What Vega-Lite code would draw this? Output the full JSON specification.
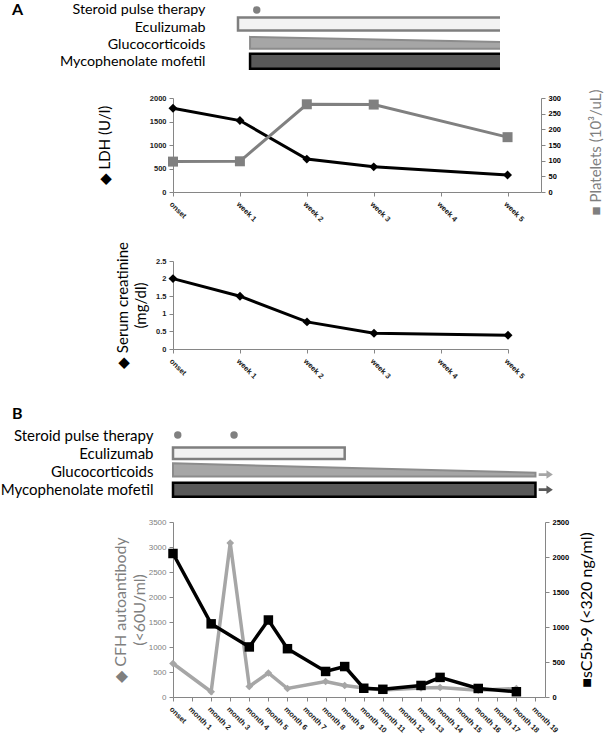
{
  "$schema": "https://vega.github.io/schema/vega-lite/v6.json",
  "padding": 0,
  "background": "white",
  "bounds": "flush",
  "spacing": 0,
  "config": {
    "view": {"stroke": null},
    "font": "Lato",
    "axis": {
      "domainColor": "#868686", "tickColor": "#868686", "tickSize": 4,
      "labelFont": "Liberation Sans", "labelFontSize": 7.5, "labelFontWeight": "bold",
      "labelColor": "#1a1a1a", "labelPadding": 3, "grid": false, "labelFlush": false,
      "labelOverlap": false, "titleFont": "Lato", "titleFontSize": 15,
      "titleFontWeight": "normal", "titleColor": "#000000", "format": "~r"
    }
  },
  "datasets": {
    "treatA": [
      {"row": 1, "name": "Steroid pulse therapy", "start": 1.25},
      {"row": 2, "name": "Eculizumab", "start": 0.97, "end": 5.5},
      {"row": 4, "name": "Mycophenolate mofetil", "start": 1.15, "end": 5.5}
    ],
    "taperA": [
      {"t": 1.15, "top": 2.579, "bottom": 3.279},
      {"t": 5.5, "top": 2.929, "bottom": 3.279}
    ],
    "treatB": [
      {"row": 1, "name": "Steroid pulse therapy", "start": 0.25},
      {"row": 1, "name": "Steroid pulse therapy", "start": 3.2},
      {"row": 2, "name": "Eculizumab", "start": 0, "end": 9},
      {"row": 4, "name": "Mycophenolate mofetil", "start": 0, "end": 19}
    ],
    "taperB": [
      {"t": 0, "top": 2.552, "bottom": 3.276},
      {"t": 19, "top": 3.069, "bottom": 3.276}
    ],
    "arrowsB": [
      {"name": "Glucocorticoids", "row": 3.17, "t": 19.54},
      {"name": "Mycophenolate mofetil", "row": 4, "t": 19.54}
    ],
    "weekly": [
      {"t": 0, "label": "onset", "ldh": 1780, "plt": 97, "cr": 2.0},
      {"t": 1, "label": "week 1", "ldh": 1520, "plt": 98, "cr": 1.5},
      {"t": 2, "label": "week 2", "ldh": 700, "plt": 280, "cr": 0.77},
      {"t": 3, "label": "week 3", "ldh": 535, "plt": 279, "cr": 0.45},
      {"t": 5, "label": "week 5", "ldh": 360, "plt": 175, "cr": 0.39}
    ],
    "cfh": [
      {"t": 0, "label": "onset", "v": 670},
      {"t": 2, "label": "month 2", "v": 105},
      {"t": 3, "label": "month 3", "v": 3080},
      {"t": 4, "label": "month 4", "v": 210},
      {"t": 5, "label": "month 5", "v": 480},
      {"t": 6, "label": "month 6", "v": 170},
      {"t": 8, "label": "month 8", "v": 310},
      {"t": 9, "label": "month 9", "v": 230},
      {"t": 10, "label": "month 10", "v": 180},
      {"t": 11, "label": "month 11", "v": 140},
      {"t": 13, "label": "month 13", "v": 180},
      {"t": 14, "label": "month 14", "v": 190},
      {"t": 16, "label": "month 16", "v": 135},
      {"t": 18, "label": "month 18", "v": 170}
    ],
    "c5b9": [
      {"t": 0, "label": "onset", "v": 2050},
      {"t": 2, "label": "month 2", "v": 1045},
      {"t": 4, "label": "month 4", "v": 715},
      {"t": 5, "label": "month 5", "v": 1100},
      {"t": 6, "label": "month 6", "v": 690},
      {"t": 8, "label": "month 8", "v": 365},
      {"t": 9, "label": "month 9", "v": 435},
      {"t": 10, "label": "month 10", "v": 125},
      {"t": 11, "label": "month 11", "v": 110},
      {"t": 13, "label": "month 13", "v": 165},
      {"t": 14, "label": "month 14", "v": 280},
      {"t": 16, "label": "month 16", "v": 122},
      {"t": 18, "label": "month 18", "v": 75}
    ]
  },
  "vconcat": [
    {
      "width": 327,
      "height": 98,
      "title": {"text": "A", "anchor": "start", "frame": "group", "orient": "top", "fontSize": 16, "fontWeight": "bold", "font": "Lato", "color": "#000000", "baseline": "top", "offset": 0, "dx": -161, "dy": 17.5},
      "layer": [
        {
          "data": {"name": "treatA"},
          "transform": [{"filter": "datum.row == 2"}],
          "mark": {"type": "bar", "orient": "horizontal", "height": 13, "yOffset": -3, "fill": "#f2f2f2", "stroke": "#7f7f7f", "strokeWidth": 2.5, "clip": true},
          "encoding": {
            "x": {"field": "start", "type": "quantitative", "scale": {"domain": [0, 4.88], "nice": false, "zero": false}, "axis": null},
            "x2": {"field": "end"},
            "y": {"field": "row", "type": "quantitative", "scale": {"domain": [0.71, 5.868], "reverse": true, "nice": false, "zero": false}, "axis": {"values": [1, 2, 3, 4], "labelExpr": "['','Steroid pulse therapy','Eculizumab','Glucocorticoids','Mycophenolate mofetil'][datum.value]", "ticks": false, "tickSize": 0, "domain": false, "labelPadding": -32, "labelFont": "Lato", "labelFontSize": 14.3, "labelFontWeight": "normal", "labelColor": "#000000", "title": null}}
          }
        },
        {
          "data": {"name": "taperA"},
          "mark": {"type": "area", "fill": "#a6a6a6", "stroke": "#8c8c8c", "strokeWidth": 2, "clip": true},
          "encoding": {
            "x": {"field": "t", "type": "quantitative", "axis": null},
            "y": {"field": "top", "type": "quantitative", "axis": {"values": [1, 2, 3, 4], "labelExpr": "['','Steroid pulse therapy','Eculizumab','Glucocorticoids','Mycophenolate mofetil'][datum.value]", "ticks": false, "tickSize": 0, "domain": false, "labelPadding": -32, "labelFont": "Lato", "labelFontSize": 14.3, "labelFontWeight": "normal", "labelColor": "#000000", "title": null}},
            "y2": {"field": "bottom"}
          }
        },
        {
          "data": {"name": "treatA"},
          "transform": [{"filter": "datum.row == 4"}],
          "mark": {"type": "bar", "orient": "horizontal", "height": 15, "fill": "#595959", "stroke": "#000000", "strokeWidth": 2.5, "clip": true},
          "encoding": {
            "x": {"field": "start", "type": "quantitative", "axis": null},
            "x2": {"field": "end"},
            "y": {"field": "row", "type": "quantitative", "axis": {"values": [1, 2, 3, 4], "labelExpr": "['','Steroid pulse therapy','Eculizumab','Glucocorticoids','Mycophenolate mofetil'][datum.value]", "ticks": false, "tickSize": 0, "domain": false, "labelPadding": -32, "labelFont": "Lato", "labelFontSize": 14.3, "labelFontWeight": "normal", "labelColor": "#000000", "title": null}}
          }
        },
        {
          "data": {"name": "treatA"},
          "transform": [{"filter": "datum.row == 1"}],
          "mark": {"type": "point", "shape": "circle", "filled": true, "size": 55, "color": "#808080", "opacity": 1},
          "encoding": {
            "x": {"field": "start", "type": "quantitative", "axis": null},
            "y": {"field": "row", "type": "quantitative", "axis": {"values": [1, 2, 3, 4], "labelExpr": "['','Steroid pulse therapy','Eculizumab','Glucocorticoids','Mycophenolate mofetil'][datum.value]", "ticks": false, "tickSize": 0, "domain": false, "labelPadding": -32, "labelFont": "Lato", "labelFontSize": 14.3, "labelFontWeight": "normal", "labelColor": "#000000", "title": null}}
          }
        }
      ]
    },
    {
      "width": 368,
      "height": 94,
      "data": {"name": "weekly"},
      "encoding": {
        "x": {"field": "t", "type": "quantitative", "scale": {"domain": [0, 5.5], "nice": false, "zero": false}, "axis": {"values": [0, 1, 2, 3, 4, 5], "labelExpr": "datum.value == 0 ? 'onset' : 'week ' + datum.value", "labelAngle": 45, "title": null, "labelPadding": 4}}
      },
      "layer": [
        {
          "mark": {"type": "line", "color": "#000000", "strokeWidth": 3, "point": {"shape": "diamond", "size": 80, "filled": true, "color": "#000000"}},
          "encoding": {
            "y": {"field": "ldh", "type": "quantitative", "scale": {"domain": [0, 2000], "nice": false}, "axis": {"values": [0, 500, 1000, 1500, 2000], "title": "◆ LDH (U/l)", "titleX": -61}}
          }
        },
        {
          "mark": {"type": "line", "color": "#808080", "strokeWidth": 3, "point": {"shape": "square", "size": 100, "filled": true, "color": "#808080"}},
          "encoding": {
            "y": {"field": "plt", "type": "quantitative", "scale": {"domain": [0, 300], "nice": false}, "axis": {"orient": "right", "values": [0, 50, 100, 150, 200, 250, 300], "labelColor": "#000000", "title": "■ Platelets (10³/uL)", "titleAngle": -90, "titleBaseline": "top", "titlePadding": 28, "titleY": 54, "titleColor": "#7f7f7f", "titleFontSize": 15}}
          }
        }
      ],
      "resolve": {"scale": {"y": "independent"}}
    },
    {
      "width": 10,
      "height": 69,
      "data": {"values": []},
      "mark": "point",
      "encoding": {}
    },
    {
      "width": 335,
      "height": 88,
      "data": {"name": "weekly"},
      "mark": {"type": "line", "color": "#000000", "strokeWidth": 3, "point": {"shape": "diamond", "size": 80, "filled": true, "color": "#000000"}},
      "encoding": {
        "x": {"field": "t", "type": "quantitative", "scale": {"domain": [0, 5], "nice": false, "zero": false}, "axis": {"values": [0, 1, 2, 3, 4, 5], "labelExpr": "datum.value == 0 ? 'onset' : 'week ' + datum.value", "labelAngle": 45, "title": null, "labelPadding": 4}},
        "y": {"field": "cr", "type": "quantitative", "scale": {"domain": [0, 2.5], "nice": false}, "axis": {"values": [0, 0.5, 1, 1.5, 2, 2.5], "title": ["◆ Serum  creatinine", "(mg/dl)"], "titleX": -43, "titleLineHeight": 18}}
      }
    },
    {
      "width": 372,
      "height": 173,
      "title": {"text": "B", "anchor": "start", "frame": "group", "orient": "top", "fontSize": 16, "fontWeight": "bold", "font": "Lato", "color": "#000000", "baseline": "top", "offset": 0, "dx": -161, "dy": 72.5},
      "layer": [
        {
          "data": {"name": "treatB"},
          "transform": [{"filter": "datum.row == 2"}],
          "mark": {"type": "bar", "orient": "horizontal", "height": 11.5, "fill": "#f2f2f2", "stroke": "#7f7f7f", "strokeWidth": 2.5},
          "encoding": {
            "x": {"field": "start", "type": "quantitative", "scale": {"domain": [0, 19.5], "nice": false, "zero": false}, "axis": null},
            "x2": {"field": "end"},
            "y": {"field": "row", "type": "quantitative", "scale": {"domain": [-3.449, 5.501], "reverse": true, "nice": false, "zero": false}, "axis": {"values": [1, 2, 3, 4], "labelExpr": "['','Steroid pulse therapy','Eculizumab','Glucocorticoids','Mycophenolate mofetil'][datum.value]", "ticks": false, "tickSize": 0, "domain": false, "labelPadding": 20, "labelFont": "Lato", "labelFontSize": 15, "labelFontWeight": "normal", "labelColor": "#000000", "title": null}}
          }
        },
        {
          "data": {"name": "taperB"},
          "mark": {"type": "area", "fill": "#a6a6a6", "stroke": "#8c8c8c", "strokeWidth": 2},
          "encoding": {
            "x": {"field": "t", "type": "quantitative", "axis": null},
            "y": {"field": "top", "type": "quantitative", "axis": {"values": [1, 2, 3, 4], "labelExpr": "['','Steroid pulse therapy','Eculizumab','Glucocorticoids','Mycophenolate mofetil'][datum.value]", "ticks": false, "tickSize": 0, "domain": false, "labelPadding": 20, "labelFont": "Lato", "labelFontSize": 15, "labelFontWeight": "normal", "labelColor": "#000000", "title": null}},
            "y2": {"field": "bottom"}
          }
        },
        {
          "data": {"name": "treatB"},
          "transform": [{"filter": "datum.row == 4"}],
          "mark": {"type": "bar", "orient": "horizontal", "height": 14, "fill": "#595959", "stroke": "#000000", "strokeWidth": 2.5},
          "encoding": {
            "x": {"field": "start", "type": "quantitative", "axis": null},
            "x2": {"field": "end"},
            "y": {"field": "row", "type": "quantitative", "axis": {"values": [1, 2, 3, 4], "labelExpr": "['','Steroid pulse therapy','Eculizumab','Glucocorticoids','Mycophenolate mofetil'][datum.value]", "ticks": false, "tickSize": 0, "domain": false, "labelPadding": 20, "labelFont": "Lato", "labelFontSize": 15, "labelFontWeight": "normal", "labelColor": "#000000", "title": null}}
          }
        },
        {
          "data": {"name": "arrowsB"},
          "mark": {"type": "point", "shape": "M-1,-0.2L0.1,-0.2L0.1,-0.6L1,0L0.1,0.6L0.1,0.2L-1,0.2Z", "filled": true, "size": 200, "opacity": 1, "strokeWidth": 0},
          "encoding": {
            "x": {"field": "t", "type": "quantitative", "axis": null},
            "y": {"field": "row", "type": "quantitative", "axis": {"values": [1, 2, 3, 4], "labelExpr": "['','Steroid pulse therapy','Eculizumab','Glucocorticoids','Mycophenolate mofetil'][datum.value]", "ticks": false, "tickSize": 0, "domain": false, "labelPadding": 20, "labelFont": "Lato", "labelFontSize": 15, "labelFontWeight": "normal", "labelColor": "#000000", "title": null}},
            "color": {"field": "name", "type": "nominal", "scale": {"domain": ["Glucocorticoids", "Mycophenolate mofetil"], "range": ["#a6a6a6", "#595959"]}, "legend": null}
          }
        },
        {
          "data": {"name": "treatB"},
          "transform": [{"filter": "datum.row == 1"}],
          "mark": {"type": "point", "shape": "circle", "filled": true, "size": 55, "color": "#808080", "opacity": 1},
          "encoding": {
            "x": {"field": "start", "type": "quantitative", "axis": null},
            "y": {"field": "row", "type": "quantitative", "axis": {"values": [1, 2, 3, 4], "labelExpr": "['','Steroid pulse therapy','Eculizumab','Glucocorticoids','Mycophenolate mofetil'][datum.value]", "ticks": false, "tickSize": 0, "domain": false, "labelPadding": 20, "labelFont": "Lato", "labelFontSize": 15, "labelFontWeight": "normal", "labelColor": "#000000", "title": null}}
          }
        }
      ]
    },
    {
      "width": 372,
      "height": 175,
      "encoding": {
        "x": {"field": "t", "type": "quantitative", "scale": {"domain": [0, 19.5], "nice": false, "zero": false}, "axis": {"values": [0, 1, 2, 3, 4, 5, 6, 7, 8, 9, 10, 11, 12, 13, 14, 15, 16, 17, 18, 19], "labelExpr": "datum.value == 0 ? 'onset' : 'month ' + datum.value", "labelAngle": 45, "title": null, "labelPadding": 4}}
      },
      "layer": [
        {
          "data": {"name": "cfh"},
          "mark": {"type": "line", "color": "#a6a6a6", "strokeWidth": 3.5, "point": {"shape": "diamond", "size": 60, "filled": true, "color": "#a6a6a6"}},
          "encoding": {
            "y": {"field": "v", "type": "quantitative", "scale": {"domain": [0, 3500], "nice": false}, "axis": {"values": [0, 500, 1000, 1500, 2000, 2500, 3000, 3500], "title": ["◆ CFH autoantibody", "(<60U/ml)"], "titleColor": "#7f7f7f", "labelColor": "#7f7f7f", "labelFontWeight": "normal", "labelFontSize": 8, "titleX": -45, "titleLineHeight": 19, "titleFontSize": 16}}
          }
        },
        {
          "data": {"name": "c5b9"},
          "mark": {"type": "line", "color": "#000000", "strokeWidth": 3.5, "point": {"shape": "square", "size": 90, "filled": true, "color": "#000000"}},
          "encoding": {
            "y": {"field": "v", "type": "quantitative", "scale": {"domain": [0, 2500], "nice": false}, "axis": {"orient": "right", "values": [0, 500, 1000, 1500, 2000, 2500], "labelColor": "#000000", "title": "■sC5b-9 (<320 ng/ml)", "titleAngle": -90, "titleBaseline": "top", "titlePadding": 10, "titleFontSize": 16}}
          }
        }
      ],
      "resolve": {"scale": {"y": "independent"}}
    }
  ]
}
